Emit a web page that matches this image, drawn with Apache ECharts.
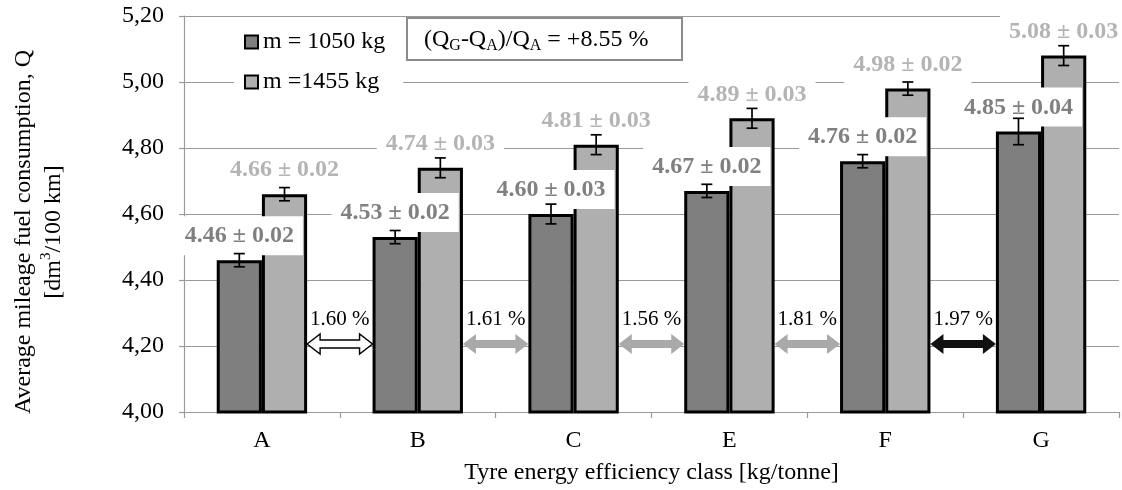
<!DOCTYPE html>
<html><head><meta charset="utf-8">
<script src="https://cdn.jsdelivr.net/npm/echarts@6/dist/echarts.min.js"></script>
<style>html,body{margin:0;padding:0;background:#fff}#c{width:1122px;height:490px}</style>
</head><body><div id="c"></div>
<script>
// ---- data ----
const categories = ['A', 'B', 'C', 'E', 'F', 'G'];
const seriesNames = ['m = 1050 kg', 'm =1455 kg'];
const q1050 = [4.46, 4.53, 4.60, 4.67, 4.76, 4.85];
const err1050 = [0.02, 0.02, 0.03, 0.02, 0.02, 0.04];
const q1455 = [4.66, 4.74, 4.81, 4.89, 4.98, 5.08];
const err1455 = [0.02, 0.03, 0.03, 0.03, 0.02, 0.03];
const gapLabels = ['1.60 %', '1.61 %', '1.56 %', '1.81 %', '1.97 %'];
const gapLevel = 4.20;
const yMin = 4.0, yMax = 5.2, yStep = 0.2;
const noteText = '(Q{s|G}-Q{s|A})/Q{s|A} = +8.55 %';
const xTitle = 'Tyre energy efficiency class [kg/tonne]';
const yTitle = 'Average mileage fuel consumption, Q\n[dm{sup|3}/100 km]';

// ---- styles ----
const FONT = "'Liberation Serif', 'Times New Roman', serif";
const GAP = 0.42;             // barCategoryGap fraction
const DARK = '#7f7f7f', LIGHT = '#afafaf';
const arrowStyles = [
  {fill: '#ffffff', stroke: '#000000', lw: 1.4},
  {fill: '#a9a9a9', stroke: '#a9a9a9', lw: 0},
  {fill: '#a9a9a9', stroke: '#a9a9a9', lw: 0},
  {fill: '#a9a9a9', stroke: '#a9a9a9', lw: 0},
  {fill: '#111111', stroke: '#111111', lw: 0}
];

const chart = echarts.init(document.getElementById('c'), null, {renderer: 'canvas'});

function labelFmt(vals, errs) {
  return p => vals[p.dataIndex].toFixed(2) + ' \u00b1 ' + errs[p.dataIndex].toFixed(2);
}

function errRender(side, errs) {
  return function (params, api) {
    const i = api.value(0), v = api.value(1), e = errs[i];
    const bw = api.size([1, 0])[0];
    const barW = bw * (1 - GAP) / 2;
    const c = api.coord([i, v]);
    const cx = c[0] + side * barW / 2;
    const yt = api.coord([i, v + e])[1];
    const yb = api.coord([i, v - e])[1];
    const st = {stroke: '#000', lineWidth: 1.7};
    return {type: 'group', children: [
      {type: 'line', shape: {x1: cx, y1: yt, x2: cx, y2: yb}, style: st},
      {type: 'line', shape: {x1: cx - 5.5, y1: yt, x2: cx + 5.5, y2: yt}, style: st},
      {type: 'line', shape: {x1: cx - 5.5, y1: yb, x2: cx + 5.5, y2: yb}, style: st}
    ]};
  };
}

function arrowRender(params, api) {
  const i = api.value(0), lv = api.value(1);
  const p0 = api.coord([i, lv]), p1 = api.coord([i + 1, lv]);
  const bw = api.size([1, 0])[0];
  const barW = bw * (1 - GAP) / 2;
  const x0 = p0[0] + barW, x1 = p1[0] - barW, y = p0[1] - 2;
  const sh = 4, hh = 10, hl = 13;
  const st = arrowStyles[i];
  return {type: 'group', children: [
    {type: 'polygon', shape: {points: [
      [x0, y], [x0 + hl, y - hh], [x0 + hl, y - sh], [x1 - hl, y - sh], [x1 - hl, y - hh],
      [x1, y], [x1 - hl, y + hh], [x1 - hl, y + sh], [x0 + hl, y + sh], [x0 + hl, y + hh]
    ]}, style: {fill: st.fill, stroke: st.stroke, lineWidth: st.lw}},
    {type: 'text', x: (x0 + x1) / 2, y: y - 25, style: {
      text: gapLabels[i], fill: '#000', font: '21px ' + FONT, align: 'center', verticalAlign: 'middle'}}
  ]};
}

const labelBase = {
  show: true, position: 'top', distance: 5, fontFamily: FONT, fontSize: 24, fontWeight: 'bold',
  backgroundColor: '#ffffff', padding: [8, 9, 7, 9], lineHeight: 24
};

chart.setOption({
  animation: false,
  backgroundColor: '#ffffff',
  grid: {left: 184, right: 3, top: 16, bottom: 78, containLabel: false, outerBoundsMode: 'none'},
  legend: {
    data: seriesNames, orient: 'vertical', left: 234, top: 26, itemGap: 16,
    icon: 'rect', itemWidth: 13, itemHeight: 13, padding: [4, 18, 4, 10],
    backgroundColor: '#ffffff',
    textStyle: {fontFamily: FONT, fontSize: 24, color: '#000'}
  },
  xAxis: {
    type: 'category', data: categories,
    axisLine: {lineStyle: {color: '#9a9a9a', width: 1.2}},
    axisTick: {show: true, length: 6, lineStyle: {color: '#9a9a9a', width: 1.2}},
    axisLabel: {fontFamily: FONT, fontSize: 24, color: '#000', margin: 17},
    name: xTitle, nameLocation: 'middle', nameGap: 49,
    nameTextStyle: {fontFamily: FONT, fontSize: 24, color: '#000'}
  },
  yAxis: {
    type: 'value', min: yMin, max: yMax, interval: yStep,
    axisLine: {show: true, lineStyle: {color: '#9a9a9a', width: 1.2}},
    axisTick: {show: true, length: 5, lineStyle: {color: '#9a9a9a', width: 1.2}},
    splitLine: {lineStyle: {color: '#9a9a9a', width: 1.2}},
    axisLabel: {fontFamily: FONT, fontSize: 24, color: '#000', margin: 20,
      formatter: v => v.toFixed(2).replace('.', ',')},
    name: yTitle, nameLocation: 'middle', nameGap: 115, nameRotate: 90,
    nameTextStyle: {fontFamily: FONT, fontSize: 24, color: '#000', lineHeight: 30,
      align: 'center', padding: [0, 36, 0, 0],
      rich: {sup: {fontFamily: FONT, fontSize: 15, verticalAlign: 'top', lineHeight: 30, padding: [0, 0, 10, 0]}}}
  },
  series: [
    {
      name: seriesNames[0], type: 'bar', data: q1050, z: 3,
      barGap: '0%', barCategoryGap: (GAP * 100) + '%',
      itemStyle: {color: DARK, borderColor: '#000', borderWidth: 3},
      label: Object.assign({}, labelBase, {color: '#808080', formatter: labelFmt(q1050, err1050)})
    },
    {
      name: seriesNames[1], type: 'bar', data: q1455, z: 2,
      barGap: '0%', barCategoryGap: (GAP * 100) + '%',
      itemStyle: {color: LIGHT, borderColor: '#000', borderWidth: 3},
      label: Object.assign({}, labelBase, {color: '#b4b4b4', formatter: labelFmt(q1455, err1455)})
    },
    {type: 'custom', z: 5, data: q1050.map((v, i) => [i, v]), encode: {x: 0, y: 1},
      renderItem: errRender(-1, err1050), silent: true},
    {type: 'custom', z: 5, data: q1455.map((v, i) => [i, v]), encode: {x: 0, y: 1},
      renderItem: errRender(1, err1455), silent: true},
    {type: 'custom', z: 6, data: gapLabels.map((t, i) => [i, gapLevel]), encode: {x: 0, y: 1},
      renderItem: arrowRender, silent: true}
  ],
  graphic: [{
    type: 'group', left: 406, top: 17, z: 100,
    children: [
      {type: 'rect', shape: {x: 0, y: 0, width: 275, height: 42},
        style: {fill: '#fff', stroke: '#8c8c8c', lineWidth: 2}},
      {type: 'text', x: 17, y: 22, style: {
        text: noteText, fill: '#000', fontFamily: FONT, fontSize: 24, verticalAlign: 'middle', lineHeight: 28,
        rich: {s: {fontFamily: FONT, fontSize: 16, verticalAlign: 'bottom', lineHeight: 16, padding: [0, 0, 0, 0]}}
      }}
    ]
  }]
});
</script></body></html>
